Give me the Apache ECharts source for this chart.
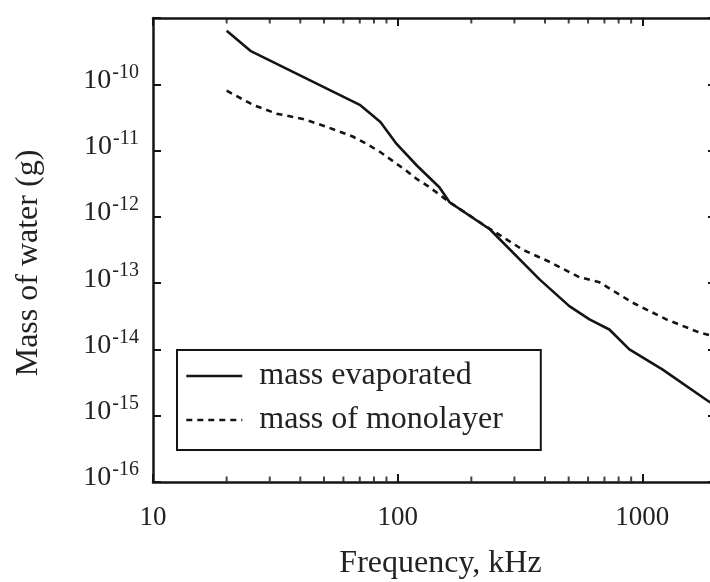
<!DOCTYPE html>
<html>
<head>
<meta charset="utf-8">
<script src="https://cdn.jsdelivr.net/npm/echarts@6/dist/echarts.min.js"></script>
<style>
html,body{margin:0;padding:0;background:#fff;}
#chart{width:710px;height:582px;}
</style>
</head>
<body>
<div id="chart"></div>
<script>
// ---- data ----
var seriesNames = ['mass evaporated', 'mass of monolayer'];
var freqEvap = [20, 25, 70, 85, 99, 120, 148, 163, 238, 380, 503, 608, 733, 885, 1207, 1824, 2000];
var massEvap = [6.4e-10, 3.2e-10, 4.9e-11, 2.7e-11, 1.26e-11, 5.9e-12, 2.8e-12, 1.66e-12, 6.5e-13, 1.14e-13, 4.5e-14, 2.84e-14, 2.0e-14, 1.0e-14, 5.0e-15, 1.74e-15, 1.4e-15];
var freqMono = [20, 25.6, 32, 41, 51, 65.5, 74.7, 84.5, 109, 120, 135, 163, 222, 324, 417, 553, 668, 910, 1253, 1710, 2000];
var massMono = [8.0e-11, 4.9e-11, 3.6e-11, 3.0e-11, 2.3e-11, 1.63e-11, 1.26e-11, 9.6e-12, 4.9e-12, 3.7e-12, 2.8e-12, 1.66e-12, 7.8e-13, 3.2e-13, 2.1e-13, 1.23e-13, 1.03e-13, 5.1e-14, 2.84e-14, 1.8e-14, 1.55e-14];
var xMinorTicks = [20, 30, 40, 50, 60, 70, 80, 90, 200, 300, 400, 500, 600, 700, 800, 900];
var xRange = [10, 2000];
var yRange = [1e-16, 1e-9];
var xTitle = 'Frequency, kHz';
var yTitle = 'Mass of water (g)';

// ---- chart ----
var FONT = '"Liberation Serif", "DejaVu Serif", serif';
var INK = '#141414';
var TXT = '#222';

function pairs(xs, ys) { return xs.map(function (x, i) { return [x, ys[i]]; }); }
function isPow10(v) { var l = Math.log10(v); return Math.abs(l - Math.round(l)) < 0.01; }

var chart = echarts.init(document.getElementById('chart'), null, {renderer: 'canvas'});

var axisLineStyle = {lineStyle: {color: INK, width: 2.5}};
var tickStyle = {show: true, inside: true, length: 8, lineStyle: {color: INK, width: 2}};
var option = {
  backgroundColor: '#fff',
  animation: false,
  grid: {left: 153, right: -6, top: 18, bottom: 100, containLabel: false, outerBoundsMode: 'none'},
  legend: {
    data: seriesNames,
    orient: 'vertical',
    left: 177, top: 350,
    padding: [10, 38, 14, 8],
    itemGap: 12,
    itemWidth: 56, itemHeight: 14,
    borderColor: INK, borderWidth: 2,
    backgroundColor: '#fff',
    itemStyle: {color: 'rgba(0,0,0,0)', borderWidth: 0, opacity: 0},
    lineStyle: {width: 2.6, color: INK},
    textStyle: {fontFamily: FONT, fontSize: 32, lineHeight: 32, color: TXT, padding: [0, 0, 0, 12]},
    selectedMode: false
  },
  xAxis: [{
    type: 'log', logBase: 10, min: xRange[0], max: xRange[1],
    position: 'bottom',
    name: xTitle, nameLocation: 'middle', nameGap: 66,
    nameTextStyle: {fontFamily: FONT, fontSize: 32, color: TXT, padding: [0, 0, 0, 12]},
    axisLine: axisLineStyle,
    axisTick: tickStyle,
    splitLine: {show: false},
    minorTick: {show: false},
    axisLabel: {
      fontFamily: FONT, fontSize: 27, color: TXT, margin: 22,
      showMinLabel: true, showMaxLabel: true, hideOverlap: false,
      formatter: function (v) { return isPow10(v) ? String(Math.round(v)) : ''; }
    }
  }, {
    type: 'log', logBase: 10, min: xRange[0], max: xRange[1],
    position: 'top',
    axisLine: axisLineStyle,
    axisTick: tickStyle,
    splitLine: {show: false},
    axisLabel: {show: false}
  }],
  yAxis: [{
    type: 'log', logBase: 10, min: yRange[0], max: yRange[1],
    position: 'left',
    name: yTitle, nameLocation: 'middle', nameGap: 108, nameRotate: 90,
    nameTextStyle: {fontFamily: FONT, fontSize: 32, color: TXT, padding: [0, 26, 0, 0]},
    axisLine: axisLineStyle,
    axisTick: tickStyle,
    splitLine: {show: false},
    axisLabel: {
      margin: 14, padding: [0, 0, 12, 0],
      showMinLabel: true, showMaxLabel: true, hideOverlap: false,
      formatter: function (v) {
        if (!isPow10(v)) return '';
        var e = Math.round(Math.log10(v));
        if (e > -10) return '';
        return '{b|10}{s|' + e + '}';
      },
      rich: {
        b: {fontFamily: FONT, fontSize: 28, color: TXT, lineHeight: 32, verticalAlign: 'bottom'},
        s: {fontFamily: FONT, fontSize: 20, color: TXT, lineHeight: 32, verticalAlign: 'top', padding: [0, 0, 0, 1]}
      }
    }
  }, {
    type: 'log', logBase: 10, min: yRange[0], max: yRange[1],
    position: 'right',
    axisLine: axisLineStyle,
    axisTick: tickStyle,
    splitLine: {show: false},
    axisLabel: {show: false}
  }],
  series: [{
    name: seriesNames[0], type: 'line', xAxisIndex: 0, yAxisIndex: 0,
    data: pairs(freqEvap, massEvap),
    symbol: 'none', smooth: false,
    lineStyle: {color: INK, width: 2.6, type: 'solid'},
    itemStyle: {color: INK}
  }, {
    name: seriesNames[1], type: 'line', xAxisIndex: 0, yAxisIndex: 0,
    data: pairs(freqMono, massMono),
    symbol: 'none', smooth: false,
    lineStyle: {color: INK, width: 2.6, type: [6, 5]},
    itemStyle: {color: INK}
  }, {
    name: 'minorBottom', type: 'scatter', xAxisIndex: 0, yAxisIndex: 0,
    data: xMinorTicks.map(function (f) { return [f, yRange[0]]; }),
    symbol: 'rect', symbolSize: [2, 5], symbolOffset: [0, -3],
    itemStyle: {color: INK}, silent: true, clip: false, z: 5
  }, {
    name: 'minorTop', type: 'scatter', xAxisIndex: 0, yAxisIndex: 0,
    data: xMinorTicks.map(function (f) { return [f, yRange[1]]; }),
    symbol: 'rect', symbolSize: [2, 5], symbolOffset: [0, 3],
    itemStyle: {color: INK}, silent: true, clip: false, z: 5
  }]
};
chart.setOption(option);
</script>
</body>
</html>
